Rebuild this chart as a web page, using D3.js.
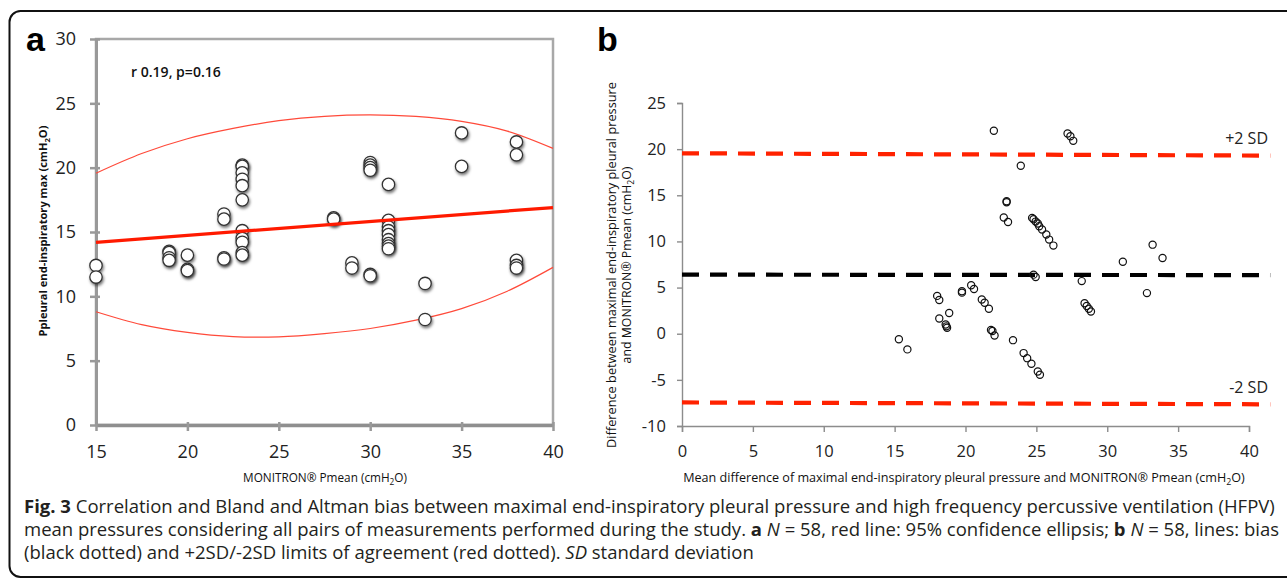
<!DOCTYPE html>
<html>
  <head>
    <meta charset="UTF-8" />
    <style>
      body {
        margin: 0;
        background-color: #ffffff;
      }
      svg {
        display: block;
        font-family: "Open Sans", sans-serif;
      }
    </style>
  </head>

  <body>
    <svg width="1287" height="580"></svg>

    <script src="https://d3js.org/d3.v7.min.js"></script>
    <script>
      // ---- panel a: correlation ----
      const monitronPmean = [
        15, 15, 19, 19, 19, 19, 20, 20, 20, 22, 22, 22, 22,
        23, 23, 23, 23, 23, 23, 23, 23, 23, 23, 23,
        28, 28, 29, 29, 30, 30, 30, 30, 30, 30,
        31, 31, 31, 31, 31, 31, 31, 31, 31,
        33, 33, 35, 35, 38, 38, 38, 38, 38,
      ];
      const pleuralMax = [
        12.4, 11.5, 13.5, 13.4, 13.0, 12.8, 13.2, 12.1, 12.0, 16.4, 16.0, 13.0, 12.9,
        20.2, 20.1, 19.6, 19.1, 18.6, 17.5, 15.1, 14.5, 14.2, 13.4, 13.2,
        16.1, 16.0, 12.6, 12.2, 20.4, 20.2, 20.0, 19.8, 11.7, 11.6,
        18.7, 15.9, 15.4, 15.1, 14.8, 14.4, 14.1, 13.9, 13.7,
        11.0, 8.2, 22.7, 20.1, 22.0, 21.0, 12.8, 12.4, 12.2,
      ];
      const regressionX = [15, 40];
      const regressionY = [14.2, 16.9];
      const ellipseX = [15, 17.5, 20, 22.5, 25, 27.5, 30, 32.5, 35, 37.5, 40];
      const ellipseUpper = [19.57, 21.1, 22.25, 23.05, 23.65, 23.99, 24.1, 23.98, 23.6, 22.84, 21.5];
      const ellipseLower = [8.8, 7.8, 7.2, 6.87, 6.85, 7.1, 7.5, 8.15, 9.05, 10.4, 12.25];
      const aXTicks = [15, 20, 25, 30, 35, 40];
      const aYTicks = [0, 5, 10, 15, 20, 25, 30];

      // ---- panel b: Bland-Altman ----
      const meanPressure = [
        22.0, 27.2, 27.4, 27.6, 23.9, 22.9, 22.9, 22.7, 23.0,
        24.7, 24.8, 24.95, 25.1, 25.2, 25.4, 25.7, 25.9, 26.2,
        31.1, 33.2, 33.9, 24.8, 24.95, 28.2, 32.8,
        28.4, 28.55, 28.7, 28.85, 20.4, 20.6, 19.75, 19.75,
        18.0, 18.15, 21.15, 21.35, 21.65, 18.85, 18.15,
        18.6, 18.7, 18.65, 21.8, 21.9, 22.05, 15.3, 15.9, 23.35,
        24.1, 24.35, 24.65, 25.1, 25.25,
      ];
      const pressureDiff = [
        22.0, 21.7, 21.4, 20.9, 18.2, 14.35, 14.25, 12.6, 12.1,
        12.55, 12.4, 12.15, 11.95, 11.65, 11.3, 10.75, 10.2, 9.55,
        7.8, 9.65, 8.2, 6.4, 6.15, 5.7, 4.4,
        3.3, 3.0, 2.7, 2.4, 5.25, 4.85, 4.6, 4.45,
        4.1, 3.65, 3.7, 3.35, 2.7, 2.25, 1.65,
        1.0, 0.65, 0.8, 0.4, 0.3, -0.2, -0.6, -1.7, -0.7,
        -2.1, -2.65, -3.25, -4.1, -4.45,
      ];
      const limitX = [0, 41.5];
      const upperLimit = [19.55, 19.3];
      const biasLine = [6.4, 6.35];
      const lowerLimit = [-7.45, -7.65];
      const bXTicks = [0, 5, 10, 15, 20, 25, 30, 35, 40];
      const bYTicks = [-10, -5, 0, 5, 10, 15, 20, 25];

      const captionLines = [
        [
          ["Fig. 3", "b"],
          [" Correlation and Bland and Altman bias between maximal end-inspiratory pleural pressure and high frequency percussive ventilation (HFPV)", ""],
        ],
        [
          ["mean pressures considering all pairs of measurements performed during the study. ", ""],
          ["a", "b"], [" ", ""], ["N", "i"],
          [" = 58, red line: 95% confidence ellipsis; ", ""],
          ["b", "b"], [" ", ""], ["N", "i"],
          [" = 58, lines: bias", ""],
        ],
        [
          ["(black dotted) and +2SD/-2SD limits of agreement (red dotted). ", ""],
          ["SD", "i"],
          [" standard deviation", ""],
        ],
      ];

      const svg = d3.select("svg");

      // scale a text's font size so its length matches the picture
      function fitWidth(sel, target) {
        const fs = parseFloat(sel.attr("font-size"));
        const w = sel.node().getComputedTextLength();
        sel.attr("font-size", (fs * target) / w);
      }

      // subscript helper for cmH2O
      function cmH2O(text, before) {
        text.append("tspan").text(before + "(cmH");
        text.append("tspan").attr("font-size", "70%").attr("dy", 3).text("2");
        text.append("tspan").attr("dy", -3).text("O)");
      }

      const defs = svg.append("defs");
      defs
        .append("filter")
        .attr("id", "shadow")
        .attr("x", "-60%")
        .attr("y", "-60%")
        .attr("width", "220%")
        .attr("height", "220%")
        .append("feDropShadow")
        .attr("dx", 1)
        .attr("dy", 2)
        .attr("stdDeviation", 1.6)
        .attr("flood-color", "#000")
        .attr("flood-opacity", 0.55);

      // figure frame
      svg
        .append("rect")
        .attr("x", 9.5)
        .attr("y", 11)
        .attr("width", 1300)
        .attr("height", 566)
        .attr("rx", 11)
        .attr("fill", "none")
        .attr("stroke", "#111")
        .attr("stroke-width", 2);

      // ================= panel a =================
      const xA = d3.scaleLinear().domain([15, 40]).range([96, 553]);
      const yA = d3.scaleLinear().domain([0, 30]).range([425, 39]);
      const axisGrey = "#999";

      const chartA = svg.append("g");

      chartA
        .append("rect")
        .attr("x", xA(15))
        .attr("y", yA(30))
        .attr("width", xA(40) - xA(15))
        .attr("height", yA(0) - yA(30))
        .attr("fill", "none")
        .attr("stroke", "#a8a8a8")
        .attr("stroke-width", 2.5);

      const axA_left = chartA
        .append("g")
        .attr("transform", `translate(${xA(15)},0)`)
        .call(d3.axisLeft(yA).tickValues(aYTicks).tickSizeOuter(0).tickFormat((d) => String(d)));
      axA_left.select(".domain").attr("stroke", axisGrey).attr("stroke-width", 3);
      axA_left.selectAll(".tick line").attr("x1", 4).attr("x2", -6).attr("stroke", axisGrey).attr("stroke-width", 2.5);
      axA_left
        .selectAll(".tick text")
        .attr("x", -20)
        .attr("font-size", 18)
        .attr("font-family", "Open Sans")
        .attr("fill", "#222");

      const axA_bottom = chartA
        .append("g")
        .attr("transform", `translate(0,${yA(0)})`)
        .call(d3.axisBottom(xA).tickValues(aXTicks).tickSizeOuter(0).tickFormat((d) => String(d)));
      axA_bottom.select(".domain").attr("stroke", "#8f8f8f").attr("stroke-width", 3.5);
      axA_bottom.selectAll(".tick line").attr("y1", -3).attr("y2", 6).attr("stroke", axisGrey).attr("stroke-width", 2.5);
      axA_bottom
        .selectAll(".tick text")
        .attr("y", 20)
        .attr("font-size", 18)
        .attr("font-family", "Open Sans")
        .attr("fill", "#222");

      // 95% confidence ellipse (upper and lower halves)
      const ellipseLine = d3
        .line()
        .x((d) => xA(d[0]))
        .y((d) => yA(d[1]))
        .curve(d3.curveCardinal);

      chartA
        .append("path")
        .datum(ellipseX.map((x, i) => [x, ellipseUpper[i]]))
        .attr("d", ellipseLine)
        .attr("fill", "none")
        .attr("stroke", "#ff4a3a")
        .attr("stroke-width", 1.2);
      chartA
        .append("path")
        .datum(ellipseX.map((x, i) => [x, ellipseLower[i]]))
        .attr("d", ellipseLine)
        .attr("fill", "none")
        .attr("stroke", "#ff4a3a")
        .attr("stroke-width", 1.2);

      chartA
        .selectAll()
        .data(monitronPmean.map((x, i) => ({ x: x, y: pleuralMax[i] })))
        .enter()
        .append("circle")
        .attr("cx", (d) => xA(d.x))
        .attr("cy", (d) => yA(d.y))
        .attr("r", 6.2)
        .attr("fill", "#fff")
        .attr("stroke", "#333")
        .attr("stroke-width", 1.3)
        .attr("filter", "url(#shadow)");

      chartA
        .append("line")
        .attr("x1", xA(regressionX[0]))
        .attr("y1", yA(regressionY[0]))
        .attr("x2", xA(regressionX[1]))
        .attr("y2", yA(regressionY[1]))
        .attr("stroke", "#ff1a00")
        .attr("stroke-width", 3.2);

      const rText = chartA
        .append("text")
        .attr("x", 131)
        .attr("y", 77)
        .attr("font-size", 13)
        .attr("font-weight", 600)
        .attr("fill", "#111")
        .text("r 0.19, p=0.16");
      fitWidth(rText, 90);

      const aYTitle = chartA
        .append("text")
        .attr("transform", "translate(47,231) rotate(-90)")
        .attr("text-anchor", "middle")
        .attr("font-size", 11)
        .attr("font-weight", "bold")
        .attr("fill", "#111");
      cmH2O(aYTitle, "Ppleural end-inspiratory  max ");
      fitWidth(aYTitle, 211);

      const aXTitle = chartA
        .append("text")
        .attr("x", 325)
        .attr("y", 482)
        .attr("text-anchor", "middle")
        .attr("font-size", 11)
        .attr("fill", "#111");
      cmH2O(aXTitle, "MONITRON® Pmean ");
      fitWidth(aXTitle, 164);

      svg
        .append("text")
        .attr("x", 26)
        .attr("y", 51)
        .attr("font-family", "Liberation Sans, Arial, sans-serif")
        .attr("font-weight", "bold")
        .attr("font-size", 34)
        .text("a");

      // ================= panel b =================
      const xB = d3.scaleLinear().domain([0, 40]).range([682, 1249]);
      const yB = d3.scaleLinear().domain([-10, 25]).range([426, 103]);

      const chartB = svg.append("g");

      const axB_left = chartB
        .append("g")
        .attr("transform", `translate(${xB(0)},0)`)
        .call(d3.axisLeft(yB).tickValues(bYTicks).tickSizeOuter(0).tickSize(5).tickFormat((d) => String(d)));
      axB_left.select(".domain").attr("stroke", "#8c8c8c").attr("stroke-width", 1.4);
      axB_left.selectAll(".tick line").attr("stroke", "#8c8c8c").attr("stroke-width", 1.4);
      axB_left
        .selectAll(".tick text")
        .attr("x", -16)
        .attr("font-size", 16.5)
        .attr("font-family", "Open Sans")
        .attr("fill", "#222");

      const axB_bottom = chartB
        .append("g")
        .attr("transform", `translate(0,${yB(-10)})`)
        .call(d3.axisBottom(xB).tickValues(bXTicks).tickSizeOuter(0).tickSize(6).tickFormat((d) => String(d)));
      axB_bottom.select(".domain").attr("stroke", "#8c8c8c").attr("stroke-width", 1.4);
      axB_bottom.selectAll(".tick line").attr("stroke", "#8c8c8c").attr("stroke-width", 1.4);
      axB_bottom
        .selectAll(".tick text")
        .attr("y", 19)
        .attr("font-size", 16.5)
        .attr("font-family", "Open Sans")
        .attr("fill", "#222");

      const limits = [
        { values: upperLimit, color: "#ff2200" },
        { values: biasLine, color: "#000" },
        { values: lowerLimit, color: "#ff2200" },
      ];
      chartB
        .selectAll()
        .data(limits)
        .enter()
        .append("line")
        .attr("x1", xB(limitX[0]))
        .attr("x2", xB(limitX[1]))
        .attr("y1", (d) => yB(d.values[0]))
        .attr("y2", (d) => yB(d.values[1]))
        .attr("stroke", (d) => d.color)
        .attr("stroke-width", 4.2)
        .attr("stroke-dasharray", "17,11");

      chartB
        .selectAll()
        .data(meanPressure.map((x, i) => ({ x: x, y: pressureDiff[i] })))
        .enter()
        .append("circle")
        .attr("cx", (d) => xB(d.x))
        .attr("cy", (d) => yB(d.y))
        .attr("r", 3.6)
        .attr("fill", "none")
        .attr("stroke", "#111")
        .attr("stroke-width", 1.2);

      chartB
        .append("text")
        .attr("x", 1268)
        .attr("y", 143.5)
        .attr("text-anchor", "end")
        .attr("font-size", 16)
        .attr("fill", "#222")
        .text("+2 SD");
      chartB
        .append("text")
        .attr("x", 1268)
        .attr("y", 393)
        .attr("text-anchor", "end")
        .attr("font-size", 16)
        .attr("fill", "#222")
        .text("-2 SD");

      const bYTitle1 = chartB
        .append("text")
        .attr("transform", "translate(616,265) rotate(-90)")
        .attr("text-anchor", "middle")
        .attr("font-size", 12)
        .attr("fill", "#111")
        .text("Difference between maximal end-inspiratory  pleural pressure");
      fitWidth(bYTitle1, 366);

      const bYTitle2 = chartB
        .append("text")
        .attr("transform", "translate(631,265) rotate(-90)")
        .attr("text-anchor", "middle")
        .attr("font-size", 12)
        .attr("fill", "#111");
      cmH2O(bYTitle2, "and MONITRON® Pmean ");
      fitWidth(bYTitle2, 197);

      const bXTitle = chartB
        .append("text")
        .attr("x", 964)
        .attr("y", 482)
        .attr("text-anchor", "middle")
        .attr("font-size", 11)
        .attr("fill", "#111");
      cmH2O(bXTitle, "Mean difference of maximal end-inspiratory pleural pressure and MONITRON® Pmean ");
      fitWidth(bXTitle, 562);

      svg
        .append("text")
        .attr("x", 597)
        .attr("y", 51)
        .attr("font-family", "Liberation Sans, Arial, sans-serif")
        .attr("font-weight", "bold")
        .attr("font-size", 34)
        .text("b");

      // ================= caption =================
      const captionY = [513, 536, 559];
      const captionTexts = captionLines.map((segments, li) => {
        const t = svg
          .append("text")
          .attr("x", 24)
          .attr("y", captionY[li])
          .attr("font-size", 16)
          .attr("fill", "#231f20");
        segments.forEach((s) => {
          t.append("tspan")
            .attr("font-weight", s[1] === "b" ? "bold" : null)
            .attr("font-style", s[1] === "i" ? "italic" : null)
            .text(s[0]);
        });
        return t;
      });
      fitWidth(captionTexts[0], 1252);
      const captionSize = captionTexts[0].attr("font-size");
      captionTexts.forEach((t) => t.attr("font-size", captionSize));
    </script>
  </body>
</html>
